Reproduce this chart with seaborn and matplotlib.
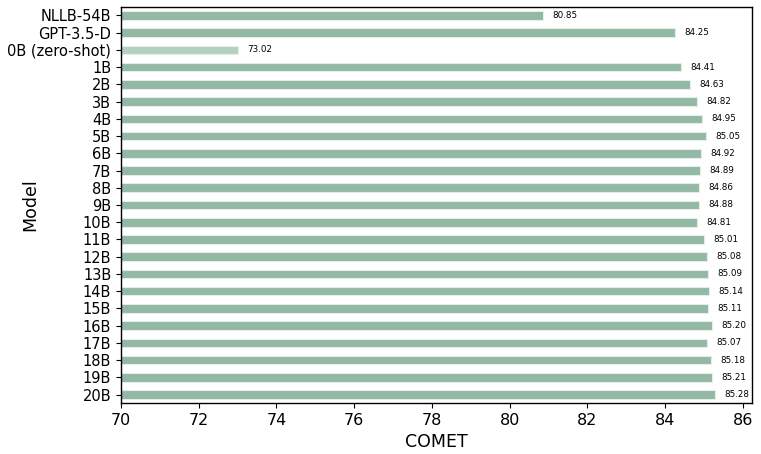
import matplotlib
matplotlib.use("Agg")
import matplotlib.pyplot as plt
import seaborn as sns
import pandas as pd

models = ["NLLB-54B", "GPT-3.5-D", "0B (zero-shot)", "1B", "2B", "3B", "4B", "5B", "6B", "7B",
          "8B", "9B", "10B", "11B", "12B", "13B", "14B", "15B", "16B", "17B", "18B", "19B", "20B"]
comet = [80.85, 84.25, 73.02, 84.41, 84.63, 84.82, 84.95, 85.05, 84.92, 84.89,
         84.86, 84.88, 84.81, 85.01, 85.08, 85.09, 85.14, 85.11, 85.20, 85.07, 85.18, 85.21, 85.28]

df = pd.DataFrame({"Model": models, "COMET": comet})
main_c = "#93b9a5"
light_c = "#b3d1c1"
palette = {m: (light_c if m.startswith("0B") else main_c) for m in models}

sns.set_style("ticks")
plt.rcParams.update({"text.color": "black", "axes.labelcolor": "black",
                     "xtick.color": "black", "ytick.color": "black",
                     "axes.edgecolor": "black"})
fig, ax = plt.subplots(figsize=(7.61, 4.54), dpi=100)
sns.barplot(data=df, y="Model", x="COMET", hue="Model", palette=palette, legend=False,
            orient="h", width=0.5, ax=ax, saturation=1, edgecolor="#e3eee8", linewidth=0.8)
for i, v in enumerate(comet):
    ax.text(v + 0.24, i, f"{v:.2f}", va="center", ha="left", fontsize=6.3, color="black")
ax.set_xlim(70, 86.23)
ax.set_xticks(range(70, 87, 2))
ax.tick_params(axis="x", labelsize=11.5, colors="black")
ax.tick_params(axis="y", labelsize=10.5, colors="black")
ax.set_xlabel("COMET", fontsize=12.5)
ax.set_ylabel("Model", fontsize=12.5)
ax.yaxis.set_label_coords(-0.13, 0.5)
for s in ax.spines.values():
    s.set_visible(True)
    s.set_linewidth(1.0)
    s.set_color("black")
plt.subplots_adjust(left=0.159, right=0.988, top=0.985, bottom=0.112)
fig.savefig("out.png", dpi=100)
